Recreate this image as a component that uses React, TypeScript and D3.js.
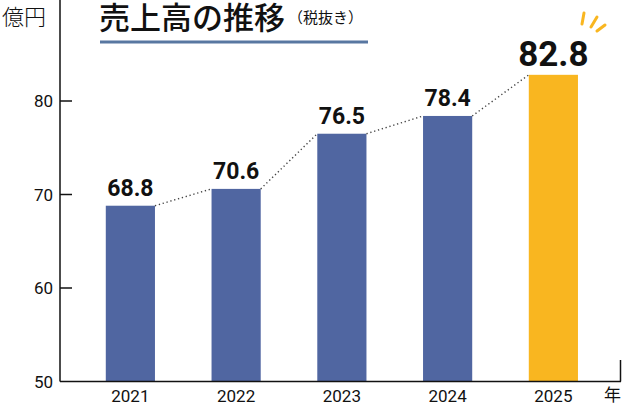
import React from "react"
import * as d3 from "d3"

const years = ["2021", "2022", "2023", "2024", "2025"]
const sales = [68.8, 70.6, 76.5, 78.4, 82.8]
const yTicks = [50, 60, 70, 80]

const width = 622
const height = 417
const axisX = 60
const baseY = 381.5
const numFont = "Roboto, 'DejaVu Sans Condensed', sans-serif"
const jpFont = "'Noto Sans CJK JP', 'Noto Sans', sans-serif"

export default function App() {
  const yScale = d3.scaleLinear().domain([50, 80]).range([baseY, 101])
  const xScale = d3
    .scaleBand()
    .domain(years)
    .range([77.5, 606.25])
    .paddingInner(0.535)
    .paddingOuter(0.2675)
  const bw = xScale.bandwidth()
  const last = years.length - 1

  // dotted connectors: top-right of one bar to top-left of the next
  const links = d3.range(last).map((i) => ({
    x1: xScale(years[i])! + bw,
    y1: yScale(sales[i]),
    x2: xScale(years[i + 1])!,
    y2: yScale(sales[i + 1]),
  }))

  const lastCx = xScale(years[last])! + bw / 2
  const lastTop = yScale(sales[last])

  return (
    <svg
      width={width}
      height={height}
      style={{ position: "absolute", left: 0, top: 0, background: "#fff" }}
    >
      {/* title */}
      <text x={99} y={29} fontFamily={jpFont} fontSize={31} fontWeight={500} fill="#111">
        売上高の推移
      </text>
      <text x={288} y={23} fontFamily={jpFont} fontSize={15} fill="#111">
        （税抜き）
      </text>
      <line x1={100} x2={368} y1={42} y2={42} stroke="#5877a1" strokeWidth={3} />

      {/* unit */}
      <text x={2} y={25} fontFamily={jpFont} fontSize={22} fontWeight={300} fill="#111">
        億円
      </text>

      {/* bars */}
      {years.map((y, i) => (
        <rect
          key={y}
          x={xScale(y)}
          y={yScale(sales[i])}
          width={bw}
          height={baseY - yScale(sales[i])}
          fill={i === last ? "#f9b620" : "#5066a1"}
        />
      ))}

      {links.map((l, i) => (
        <line
          key={i}
          x1={l.x1}
          y1={l.y1}
          x2={l.x2}
          y2={l.y2}
          stroke="#444"
          strokeWidth={1.4}
          strokeDasharray="1.3 2.7"
        />
      ))}

      {/* value labels */}
      {years.map((y, i) =>
        i === last ? null : (
          <text
            key={y}
            x={xScale(y)! + bw / 2}
            y={yScale(sales[i]) - 10}
            textAnchor="middle"
            fontFamily={numFont}
            fontWeight="bold"
            fontSize={23}
            fill="#111"
          >
            {sales[i].toFixed(1)}
          </text>
        )
      )}
      <text
        x={lastCx}
        y={lastTop - 9}
        textAnchor="middle"
        fontFamily={numFont}
        fontWeight="bold"
        fontSize={35}
        fill="#111"
      >
        {sales[last].toFixed(1)}
      </text>

      {/* sparkle */}
      <g stroke="#f9b620" strokeWidth={3} strokeLinecap="round">
        <line x1={584} y1={13} x2={582} y2={24} />
        <line x1={597} y1={17} x2={591} y2={27} />
        <line x1={605} y1={25} x2={597} y2={31} />
      </g>

      {/* axes */}
      <line x1={axisX} x2={axisX} y1={0} y2={baseY} stroke="#111" strokeWidth={1.5} />
      <line x1={axisX} x2={621} y1={baseY} y2={baseY} stroke="#111" strokeWidth={1.5} />
      <line x1={620.5} x2={620.5} y1={360} y2={baseY} stroke="#111" strokeWidth={1.5} />
      {yTicks.map((t) => (
        <g key={t}>
          {t !== 50 && (
            <line x1={axisX} x2={72} y1={yScale(t)} y2={yScale(t)} stroke="#111" strokeWidth={1.5} />
          )}
          <text
            x={53}
            y={yScale(t) + 6}
            textAnchor="end"
            fontFamily={numFont}
            fontSize={17}
            fill="#111"
          >
            {t}
          </text>
        </g>
      ))}
      {years.map((y) => (
        <text
          key={y}
          x={xScale(y)! + bw / 2}
          y={401.5}
          textAnchor="middle"
          fontFamily={numFont}
          fontSize={17}
          fill="#111"
        >
          {y}
        </text>
      ))}
      <text x={621} y={401} textAnchor="end" fontFamily={jpFont} fontSize={17} fill="#111">
        年
      </text>
    </svg>
  )
}
